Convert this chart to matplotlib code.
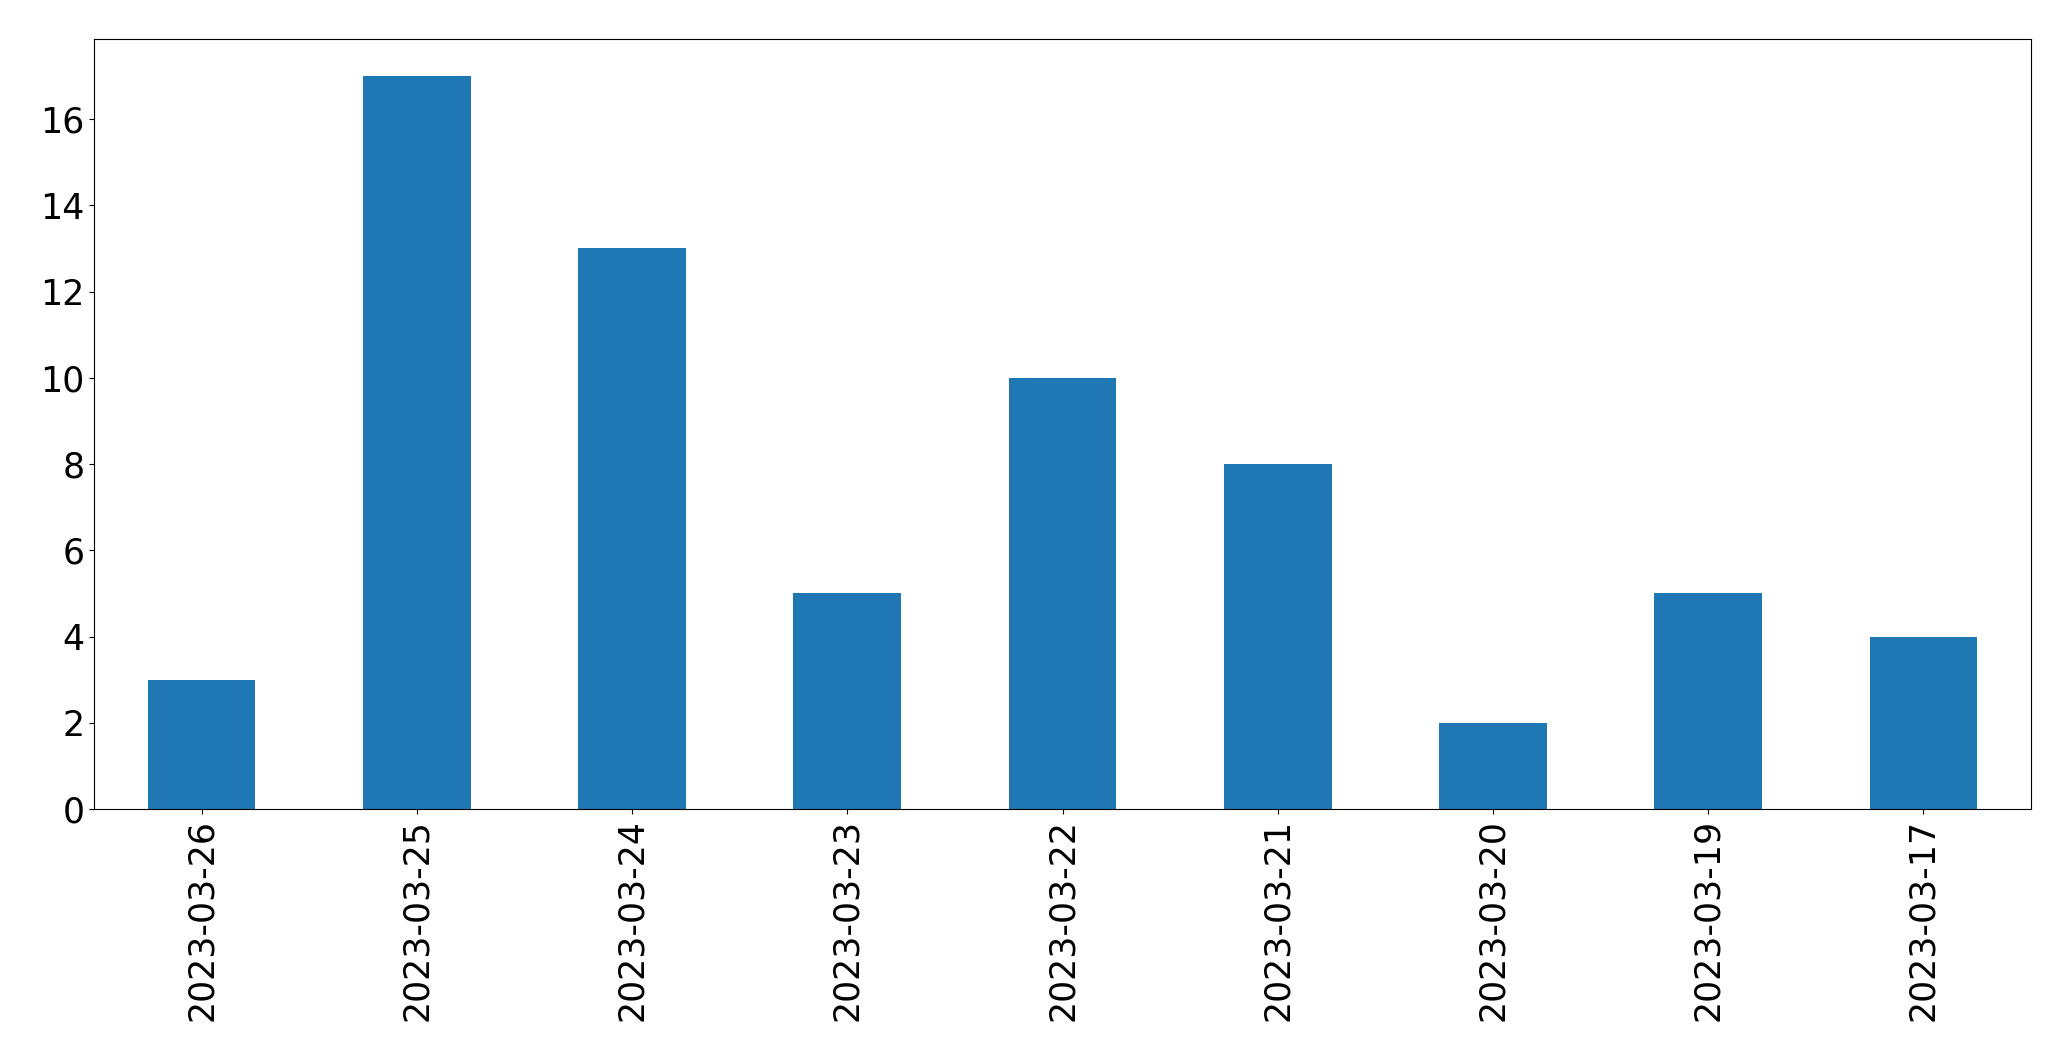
import pandas as pd
import matplotlib
matplotlib.use("Agg")
import matplotlib.pyplot as plt

# 日付ごとの件数
dates = ["2023-03-26", "2023-03-25", "2023-03-24", "2023-03-23", "2023-03-22",
         "2023-03-21", "2023-03-20", "2023-03-19", "2023-03-17"]
counts = [3, 17, 13, 5, 10, 8, 2, 5, 4]

s = pd.Series(counts, index=dates)

fig = plt.figure(figsize=(20.71, 10.61), dpi=100)
ax = fig.add_subplot(1, 1, 1)
fig.subplots_adjust(left=0.0454, right=0.9807, top=0.963, bottom=0.2375)
s.plot(kind="bar", ax=ax, color="#1f77b4")
ax.tick_params(axis="both", labelsize=25)
fig.savefig("out.png", dpi=100)
